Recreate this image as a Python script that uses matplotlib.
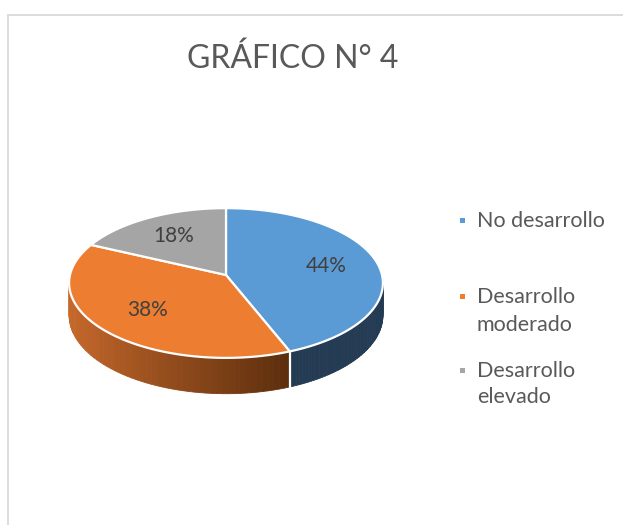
import numpy as np
import matplotlib.pyplot as plt
from matplotlib.colors import to_rgb

# Data
labels = ["No desarrollo", "Desarrollo\nmoderado", "Desarrollo\nelevado"]
values = [44, 38, 18]
top_colors = ["#5b9bd5", "#ed7d31", "#a5a5a5"]
side_colors = [("#243b54", "#243b54"), ("#c96a2c", "#5c2e0d"), ("#7a7a7a", "#4a4a4a")]
title = "GRÁFICO N° 4"

plt.rcParams['font.family'] = ['Lato', 'DejaVu Sans']

fig = plt.figure(figsize=(6.23, 5.25), dpi=100)
ax = fig.add_axes([0, 0, 1, 1])
ax.set_xlim(0, 623)
ax.set_ylim(525, 0)
ax.axis('off')

# chart area border (only left and top visible in the crop)
ax.plot([8, 8, 623], [525, 15, 15], color="#d9d9d9", lw=1.3, solid_joinstyle='miter')

# 3D pie geometry (perspective tilted disk)
cx, cy = 226, 275
rx, ry = 156, 74
persp = 0.107
depth = 32


def project(u, v, drop=0.0):
    s = 1 + persp * v
    return cx + rx * u / s, cy - ry * v / s + drop / s


def arc(a0, a1, n=120, r=1.0, drop=0.0):
    t = np.radians(np.linspace(a0, a1, n))
    return project(r * np.cos(t), r * np.sin(t), drop)


total = float(sum(values))
bounds = 90 - 360 * np.concatenate([[0], np.cumsum(values)]) / total

# side walls (front half only: angles between -180 and 0)
for i in range(len(values)):
    a_hi, a_lo = bounds[i], bounds[i + 1]
    for k in (-360, 0, 360):
        lo = max(a_lo + k, -180)
        hi = min(a_hi + k, 0)
        if hi <= lo:
            continue
        c0, c1 = np.array(to_rgb(side_colors[i][0])), np.array(to_rgb(side_colors[i][1]))
        edges = np.linspace(lo, hi, 60)
        xs_all = np.cos(np.radians(edges))
        xmin, xmax = xs_all.min(), xs_all.max()
        for j in range(len(edges) - 1):
            xt, yt = arc(edges[j], edges[j + 1], n=6)
            xb, yb = arc(edges[j + 1], edges[j], n=6, drop=depth)
            xm = np.cos(np.radians((edges[j] + edges[j + 1]) / 2))
            f = (xm - xmin) / (xmax - xmin) if xmax > xmin else 0
            col = c0 + (c1 - c0) * f
            ax.fill(np.concatenate([xt, xb]), np.concatenate([yt, yb]),
                    facecolor=col, edgecolor=col, lw=0.6, zorder=1)

# white seams on the side at slice boundaries
for b in bounds[:-1]:
    bb = (b + 180) % 360 - 180
    if -180 < bb < 0:
        t = np.radians(bb)
        x0, y0 = project(np.cos(t), np.sin(t))
        x1, y1 = project(np.cos(t), np.sin(t), depth)
        ax.plot([x0, x1], [y0, y1], color="white", lw=1.6, zorder=2)

# top surface slices
for i in range(len(values)):
    xa, ya = arc(bounds[i], bounds[i + 1], n=200)
    px, py = project(0, 0)
    ax.fill(np.concatenate([[px], xa]), np.concatenate([[py], ya]),
            facecolor=top_colors[i], edgecolor="white", lw=1.6,
            joinstyle='round', zorder=3)

# percentage labels
for i, v in enumerate(values):
    mid = np.radians((bounds[i] + bounds[i + 1]) / 2)
    lx, ly = project(0.66 * np.cos(mid), 0.66 * np.sin(mid))
    ax.text(lx, ly, f"{v}%", ha="center", va="center", fontsize=15,
            color="#404040", zorder=4)

# title
ax.text(292.5, 68, title, ha="center", va="baseline", fontsize=23, color="#595959")

# legend
legend_baselines = [[227], [303, 331], [377, 403]]
for i, lab in enumerate(labels):
    lines = lab.split("\n")
    base = legend_baselines[i]
    ax.add_patch(plt.Rectangle((460, base[0] - 9), 5, 5, facecolor=top_colors[i],
                               edgecolor="none"))
    for line, yb in zip(lines, base):
        ax.text(477, yb, line, ha="left", va="baseline", fontsize=15.5, color="#595959")

fig.savefig("out.png", dpi=100)
